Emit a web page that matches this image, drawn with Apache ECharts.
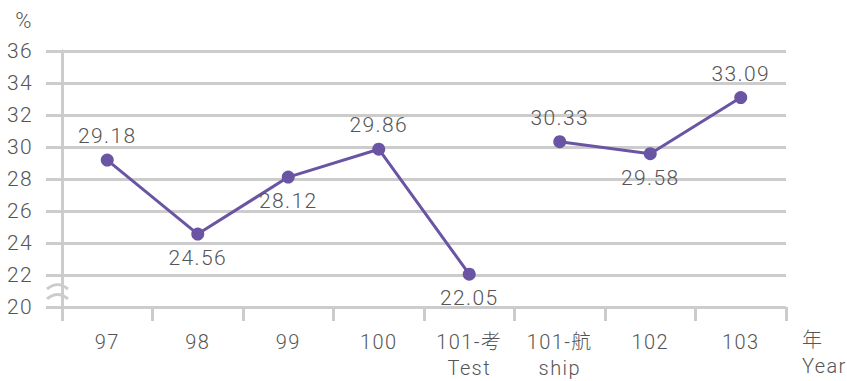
<!DOCTYPE html>
<html>
<head>
<meta charset="utf-8">
<script src="https://cdn.jsdelivr.net/npm/echarts@6/dist/echarts.min.js"></script>
<style>
  html, body { margin: 0; padding: 0; background: #fff; }
  #chart { width: 847px; height: 381px; }
  /* slightly tracked-out lettering for all chart text */
  #chart svg text { letter-spacing: 1.4px; }
</style>
</head>
<body>
<div id="chart"></div>
<script>
// Categories (school years); two-line labels for the split year 101
const categories = ['97', '98', '99', '100', '101-考\nTest', '101-航\nship', '102', '103'];
// Rate (%) per year
const rates = [29.18, 24.56, 28.12, 29.86, 22.05, 30.33, 29.58, 33.09];
// Label placement per point: above or below the marker
const labelSides = ['top', 'bottom', 'bottom', 'top', 'bottom', 'top', 'bottom', 'top'];
// The line is broken between the two 101 groups
const firstSegmentEnd = 4;
// Y-axis range and step
const yMin = 20, yMax = 36, yStep = 2;

const FONT = 'Roboto, "Noto Sans CJK TC", sans-serif';
const WEIGHT = 300;
const TEXT = '#555555';
const GRID = '#cccccc';
const PURPLE = '#6a55a4';

function pointsFor(from, to) {
  return rates.map((v, i) => (i >= from && i <= to) ? {
    value: v,
    label: { position: labelSides[i] }
  } : null);
}

function lineSeries(data) {
  return {
    type: 'line',
    data: data,
    connectNulls: false,
    symbol: 'circle',
    symbolSize: 13,
    lineStyle: { color: PURPLE, width: 3 },
    itemStyle: { color: PURPLE },
    label: {
      show: true,
      distance: 7,
      color: TEXT,
      fontFamily: FONT,
      fontWeight: WEIGHT,
      fontSize: 21,
      formatter: p => p.value.toFixed(2)
    },
    z: 3
  };
}

const chart = echarts.init(document.getElementById('chart'), null, { renderer: 'svg' });

chart.setOption({
  animation: false,
  grid: { left: 62, right: 61, top: 51, bottom: 70, containLabel: false },
  xAxis: {
    type: 'category',
    data: categories,
    boundaryGap: true,
    axisLine: { show: false },
    axisTick: { show: true, length: 14, lineStyle: { color: GRID, width: 3 } },
    axisLabel: {
      color: TEXT, fontFamily: FONT, fontWeight: WEIGHT, fontSize: 20, margin: 22, lineHeight: 26
    },
    name: '年\nYear',
    nameLocation: 'end',
    nameGap: 16,
    nameTextStyle: {
      color: TEXT, fontFamily: FONT, fontWeight: WEIGHT, fontSize: 20, lineHeight: 26,
      align: 'left', verticalAlign: 'top', padding: [20, 0, 0, 0]
    }
  },
  yAxis: {
    type: 'value',
    min: yMin, max: yMax, interval: yStep,
    axisLine: { show: true, lineStyle: { color: GRID, width: 3 } },
    axisTick: { show: true, length: 16, lineStyle: { color: GRID, width: 3 } },
    splitLine: { show: true, lineStyle: { color: GRID, width: 3 } },
    axisLabel: { color: TEXT, fontFamily: FONT, fontWeight: WEIGHT, fontSize: 21, margin: 29 },
    name: '%',
    nameLocation: 'end',
    nameGap: 31,
    nameTextStyle: {
      color: TEXT, fontFamily: FONT, fontWeight: WEIGHT, fontSize: 22,
      align: 'right', verticalAlign: 'middle', padding: [0, 29, 0, 0]
    }
  },
  series: [
    lineSeries(pointsFor(0, firstSegmentEnd)),
    lineSeries(pointsFor(firstSegmentEnd + 1, rates.length - 1))
  ]
});

// Axis-break mark (two small waves) between 20 and 22 on the y axis
function drawBreak() {
  const axisX = chart.getModel().getComponent('grid').coordinateSystem.getRect().x;
  const yA = chart.convertToPixel({ yAxisIndex: 0 }, yMin + 1.25);
  const yB = chart.convertToPixel({ yAxisIndex: 0 }, yMin + 0.63);
  const w = 21, left = axisX - 15;
  const wave = (y) => ({
    type: 'bezierCurve',
    shape: {
      x1: left, y1: y + 2,
      x2: left + w, y2: y + 2,
      cpx1: left + w * 0.35, cpy1: y - 4,
      cpx2: left + w * 0.65, cpy2: y - 4
    },
    style: { stroke: GRID, lineWidth: 3, fill: null },
    z: 10
  });
  chart.setOption({ graphic: [wave(yA), wave(yB)] });
}
drawBreak();
</script>
</body>
</html>
